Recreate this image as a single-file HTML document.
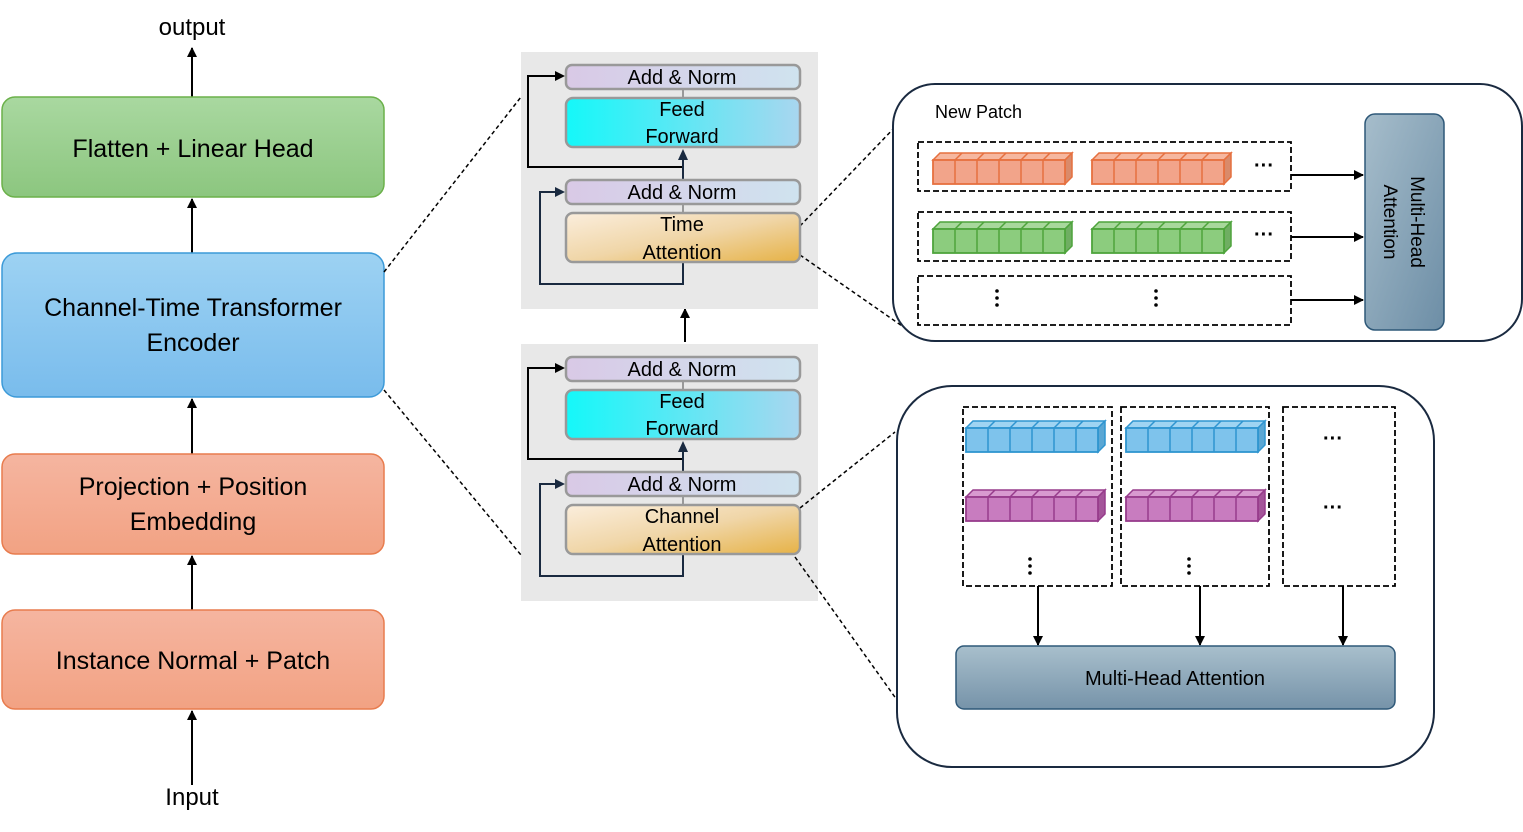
<!DOCTYPE html>
<html><head><style>body{margin:0;background:#fff}svg{display:block}text{font-family:"Liberation Sans",sans-serif}</style></head><body>
<svg width="1523" height="832" viewBox="0 0 1523 832" xmlns="http://www.w3.org/2000/svg">
<defs>
<linearGradient id="g" x1="0" y1="0" x2="0" y2="1"><stop offset="0" stop-color="#a9d8a0"/><stop offset="1" stop-color="#8cc67f"/></linearGradient>
<linearGradient id="b" x1="0" y1="0" x2="0" y2="1"><stop offset="0" stop-color="#9dd2f3"/><stop offset="1" stop-color="#79bcec"/></linearGradient>
<linearGradient id="o" x1="0" y1="0" x2="0" y2="1"><stop offset="0" stop-color="#f5b5a0"/><stop offset="1" stop-color="#f2a283"/></linearGradient>
<linearGradient id="an" x1="0" y1="0" x2="1" y2="0"><stop offset="0" stop-color="#d9c9e6"/><stop offset="1" stop-color="#cfe3ef"/></linearGradient>
<linearGradient id="ff" x1="0" y1="0" x2="1" y2="0"><stop offset="0" stop-color="#14f8f9"/><stop offset="1" stop-color="#a9d6ef"/></linearGradient>
<linearGradient id="ta" x1="0" y1="0" x2="1" y2="1"><stop offset="0" stop-color="#fbeedd"/><stop offset="0.5" stop-color="#f0d6a8"/><stop offset="1" stop-color="#e6b246"/></linearGradient>
<linearGradient id="mh" x1="0" y1="0" x2="1" y2="1"><stop offset="0" stop-color="#a6bdcb"/><stop offset="1" stop-color="#6d8ea6"/></linearGradient>
<linearGradient id="mh2" x1="0" y1="0" x2="0" y2="1"><stop offset="0" stop-color="#a8bfcc"/><stop offset="1" stop-color="#7693a9"/></linearGradient>
<marker id="ar" markerWidth="10" markerHeight="10" refX="9" refY="5" orient="auto" markerUnits="userSpaceOnUse"><path d="M0,0 L10,5 L0,10 z" fill="#000"/></marker>
<g id="bar">
<path d="M0,0 l7,-7 h132 l-7,7z" fill="var(--t)" stroke="var(--s)" stroke-width="1.5"/>
<path d="M132,0 l7,-7 v24 l-7,7z" fill="var(--d)" stroke="var(--s)" stroke-width="1.5"/>
<rect x="0" y="0" width="132" height="24" fill="var(--f)" stroke="var(--s)" stroke-width="1.8"/>
<g stroke="var(--s)" stroke-width="1.5">
<line x1="22" y1="0" x2="22" y2="24"/><line x1="44" y1="0" x2="44" y2="24"/><line x1="66" y1="0" x2="66" y2="24"/><line x1="88" y1="0" x2="88" y2="24"/><line x1="110" y1="0" x2="110" y2="24"/>
<line x1="22" y1="0" x2="29" y2="-7"/><line x1="44" y1="0" x2="51" y2="-7"/><line x1="66" y1="0" x2="73" y2="-7"/><line x1="88" y1="0" x2="95" y2="-7"/><line x1="110" y1="0" x2="117" y2="-7"/>
</g>
</g>
</defs>

<!-- left column -->
<g stroke="#000" stroke-width="2" fill="none" marker-end="url(#ar)">
<line x1="192" y1="97" x2="192" y2="48"/>
<line x1="192" y1="253" x2="192" y2="199"/>
<line x1="192" y1="454" x2="192" y2="399"/>
<line x1="192" y1="610" x2="192" y2="556"/>
<line x1="192" y1="785" x2="192" y2="711"/>
<line x1="685" y1="342" x2="685" y2="309"/>
</g>
<text x="192" y="35" font-size="24" text-anchor="middle">output</text>
<text x="192" y="805" font-size="24" text-anchor="middle">Input</text>
<rect x="2" y="97" width="382" height="100" rx="13" fill="url(#g)" stroke="#6bb14a" stroke-width="1.5"/>
<text x="193" y="157" font-size="25" text-anchor="middle">Flatten + Linear Head</text>
<rect x="2" y="253" width="382" height="144" rx="15" fill="url(#b)" stroke="#3c9ad8" stroke-width="1.5"/>
<text x="193" y="316" font-size="25" text-anchor="middle">Channel-Time Transformer</text>
<text x="193" y="351" font-size="25" text-anchor="middle">Encoder</text>
<rect x="2" y="454" width="382" height="100" rx="13" fill="url(#o)" stroke="#e87c4e" stroke-width="1.5"/>
<text x="193" y="495" font-size="25" text-anchor="middle">Projection + Position</text>
<text x="193" y="530" font-size="25" text-anchor="middle">Embedding</text>
<rect x="2" y="610" width="382" height="99" rx="13" fill="url(#o)" stroke="#e87c4e" stroke-width="1.5"/>
<text x="193" y="669" font-size="25" text-anchor="middle">Instance Normal + Patch</text>

<!-- gray panels -->
<rect x="521" y="52" width="297" height="257" fill="#e8e8e8"/>
<rect x="521" y="344" width="297" height="257" fill="#e8e8e8"/>

<!-- dashed zoom lines -->
<g stroke="#000" stroke-width="1.5" stroke-dasharray="4,3" fill="none">
<line x1="384" y1="272" x2="521" y2="97"/>
<line x1="384" y1="390" x2="521" y2="555"/>
<line x1="800" y1="226" x2="897" y2="125"/>
<line x1="800" y1="255" x2="905" y2="328"/>
<line x1="800" y1="508" x2="895" y2="432"/>
<line x1="795" y1="557" x2="897" y2="700"/>
</g>

<g id="blk">
<g stroke="#1a2a40" stroke-width="2" fill="none">
<polyline points="683,167 528,167 528,76 555,76" stroke="#000"/>
<path d="M555,71 L565,76 L555,81z" fill="#000" stroke="none"/>
<polyline points="683,262 683,284 540,284 540,192 555,192"/>
<path d="M555,187 L565,192 L555,197z" fill="#1a2a40" stroke="none"/>
<line x1="683" y1="180" x2="683" y2="158"/>
<path d="M678,160 L683,149 L688,160z" fill="#1a2a40" stroke="none"/>
<line x1="683" y1="89" x2="683" y2="98" stroke="#999"/>
<line x1="683" y1="204" x2="683" y2="213" stroke="#999"/>
</g>
<rect x="566" y="65" width="234" height="24" rx="6" fill="url(#an)" stroke="#999" stroke-width="2.5"/>
<text x="682" y="84" font-size="20" text-anchor="middle">Add &amp; Norm</text>
<rect x="566" y="98" width="234" height="49" rx="7" fill="url(#ff)" stroke="#999" stroke-width="2.5"/>
<text x="682" y="116" font-size="20" text-anchor="middle">Feed</text>
<text x="682" y="143" font-size="20" text-anchor="middle">Forward</text>
<rect x="566" y="180" width="234" height="24" rx="6" fill="url(#an)" stroke="#999" stroke-width="2.5"/>
<text x="682" y="199" font-size="20" text-anchor="middle">Add &amp; Norm</text>
<rect x="566" y="213" width="234" height="49" rx="7" fill="url(#ta)" stroke="#999" stroke-width="2.5"/>
</g>
<text x="682" y="231" font-size="20" text-anchor="middle">Time</text>
<text x="682" y="259" font-size="20" text-anchor="middle">Attention</text>
<use href="#blk" transform="translate(0,292)"/>
<text x="682" y="523" font-size="20" text-anchor="middle">Channel</text>
<text x="682" y="551" font-size="20" text-anchor="middle">Attention</text>

<!-- top right box -->
<rect x="893" y="84" width="629" height="257" rx="42" fill="#fff" stroke="#1a2a40" stroke-width="2"/>
<text x="935" y="118" font-size="18">New Patch</text>
<g fill="none" stroke="#000" stroke-width="1.8" stroke-dasharray="6,3">
<rect x="918" y="142" width="373" height="49"/>
<rect x="918" y="212" width="373" height="49"/>
<rect x="918" y="276" width="373" height="49"/>
<rect x="963" y="407" width="149" height="179"/>
<rect x="1121" y="407" width="148" height="179"/>
<rect x="1283" y="407" width="112" height="179"/>
</g>
<g stroke="#000" stroke-width="2" marker-end="url(#ar)">
<line x1="1291" y1="175" x2="1363" y2="175"/>
<line x1="1291" y1="237" x2="1363" y2="237"/>
<line x1="1291" y1="300" x2="1363" y2="300"/>
</g>
<rect x="1365" y="114" width="79" height="216" rx="10" fill="url(#mh)" stroke="#2e5878" stroke-width="1.5"/>
<text transform="translate(1411,222) rotate(90)" font-size="19" text-anchor="middle">Multi-Head</text>
<text transform="translate(1384,222) rotate(90)" font-size="19" text-anchor="middle">Attention</text>

<g style="--t:#f6b79f;--d:#d98a6a;--f:#f2a48a;--s:#e6703f">
<use href="#bar" x="933" y="160"/><use href="#bar" x="1092" y="160"/></g>
<g style="--t:#a8d89c;--d:#6fae62;--f:#8ccc7e;--s:#4ea43c">
<use href="#bar" x="933" y="229"/><use href="#bar" x="1092" y="229"/></g>
<g style="--t:#9fd4f2;--d:#5aa7d4;--f:#7ec3ec;--s:#2f95d0">
<use href="#bar" x="966" y="428"/><use href="#bar" x="1126" y="428"/></g>
<g style="--t:#d89ad0;--d:#a4559a;--f:#c87cbf;--s:#973c8c">
<use href="#bar" x="966" y="497"/><use href="#bar" x="1126" y="497"/></g>

<g font-size="20" text-anchor="middle" font-weight="bold">
<text x="1264" y="172">···</text><text x="1264" y="241">···</text>
<text x="1333" y="445">···</text><text x="1333" y="514">···</text>
</g>
<g fill="#000">
<circle cx="997" cy="291" r="1.8"/><circle cx="997" cy="298" r="1.8"/><circle cx="997" cy="305" r="1.8"/>
<circle cx="1156" cy="291" r="1.8"/><circle cx="1156" cy="298" r="1.8"/><circle cx="1156" cy="305" r="1.8"/>
<circle cx="1030" cy="559" r="1.8"/><circle cx="1030" cy="566" r="1.8"/><circle cx="1030" cy="573" r="1.8"/>
<circle cx="1189" cy="559" r="1.8"/><circle cx="1189" cy="566" r="1.8"/><circle cx="1189" cy="573" r="1.8"/>
</g>

<!-- bottom right box -->
<rect x="897" y="386" width="537" height="381" rx="55" fill="none" stroke="#1a2a40" stroke-width="2"/>
<g stroke="#000" stroke-width="2" marker-end="url(#ar)">
<line x1="1038" y1="586" x2="1038" y2="645"/>
<line x1="1200" y1="586" x2="1200" y2="645"/>
<line x1="1343" y1="586" x2="1343" y2="645"/>
</g>
<rect x="956" y="646" width="439" height="63" rx="8" fill="url(#mh2)" stroke="#2e5878" stroke-width="1.5"/>
<text x="1175" y="685" font-size="20" text-anchor="middle">Multi-Head Attention</text>
</svg>
</body></html>
